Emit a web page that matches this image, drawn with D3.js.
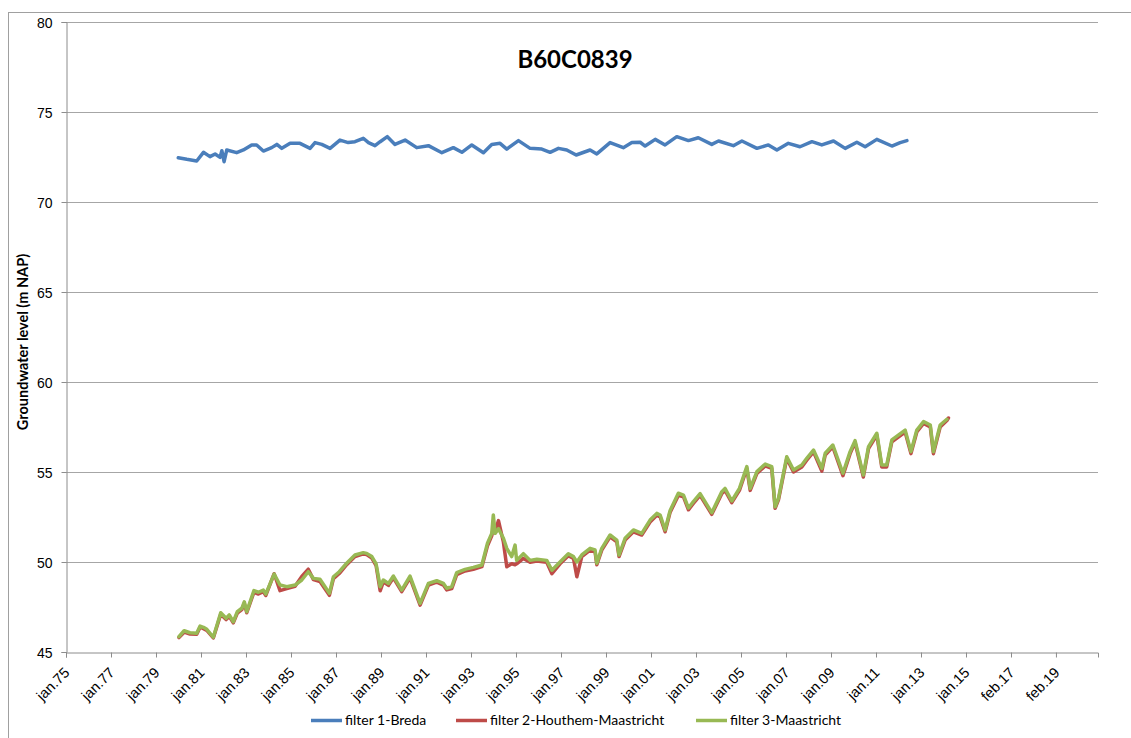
<!DOCTYPE html>
<html>
<head>
<meta charset="utf-8">
<script src="https://cdn.jsdelivr.net/npm/d3@7"></script>
<style>
  body { margin: 0; background: #fff; }
  svg { font-family: Lato, "Open Sans", sans-serif; }
</style>
</head>
<body>
<div class="canvas"></div>
<script>
// series names
const seriesNames = ["filter 1-Breda", "filter 2-Houthem-Maastricht", "filter 3-Maastricht"];

// filter 1 (decimal years / m NAP)
const bredaYears = [1980.00, 1980.38, 1980.82, 1981.12, 1981.41, 1981.64, 1981.86, 1981.94, 1982.04, 1982.16,
  1982.60, 1982.90, 1983.27, 1983.49, 1983.79, 1984.16, 1984.39, 1984.61, 1984.98, 1985.42,
  1985.87, 1986.09, 1986.39, 1986.76, 1987.20, 1987.57, 1987.87, 1988.24, 1988.47, 1988.76,
  1988.99, 1989.31, 1989.65, 1990.10, 1990.62, 1991.14, 1991.74, 1992.25, 1992.63, 1993.07,
  1993.59, 1993.96, 1994.33, 1994.63, 1995.15, 1995.67, 1996.19, 1996.56, 1996.93, 1997.30,
  1997.72, 1998.34, 1998.64, 1999.23, 1999.82, 2000.20, 2000.57, 2000.79, 2001.24, 2001.68,
  2002.20, 2002.72, 2003.16, 2003.76, 2004.06, 2004.72, 2005.10, 2005.77, 2006.28, 2006.66,
  2007.17, 2007.69, 2008.22, 2008.66, 2009.18, 2009.70, 2010.22, 2010.59, 2011.11, 2011.78,
  2012.15, 2012.45];
const bredaLevels = [72.46, 72.37, 72.28, 72.76, 72.52, 72.67, 72.48, 72.85, 72.24, 72.89,
  72.74, 72.89, 73.17, 73.17, 72.83, 73.02, 73.20, 72.98, 73.26, 73.26,
  72.98, 73.30, 73.20, 72.98, 73.44, 73.30, 73.35, 73.54, 73.30, 73.13,
  73.35, 73.63, 73.20, 73.44, 73.02, 73.13, 72.74, 73.02, 72.76, 73.17,
  72.74, 73.20, 73.26, 72.94, 73.41, 72.98, 72.94, 72.76, 72.98, 72.89,
  72.61, 72.89, 72.67, 73.30, 73.02, 73.30, 73.32, 73.11, 73.48, 73.17,
  73.63, 73.41, 73.57, 73.20, 73.39, 73.13, 73.39, 72.98, 73.17, 72.89,
  73.26, 73.07, 73.35, 73.17, 73.39, 72.98, 73.32, 73.07, 73.48, 73.11,
  73.30, 73.41];

// filter 2
const houthemYears = [1980.03, 1980.26, 1980.52, 1980.82, 1980.97, 1981.12, 1981.27, 1981.56, 1981.89, 1982.13,
  1982.27, 1982.45, 1982.63, 1982.83, 1982.94, 1983.05, 1983.37, 1983.57, 1983.79, 1983.90,
  1984.27, 1984.53, 1984.83, 1985.20, 1985.50, 1985.79, 1986.02, 1986.31, 1986.73, 1986.91,
  1987.17, 1987.50, 1987.87, 1988.24, 1988.39, 1988.62, 1988.81, 1988.99, 1989.13, 1989.36,
  1989.58, 1989.95, 1990.32, 1990.77, 1991.14, 1991.51, 1991.81, 1991.96, 1992.18, 1992.40,
  1992.77, 1993.14, 1993.52, 1993.77, 1993.96, 1994.03, 1994.11, 1994.26, 1994.48, 1994.63,
  1994.85, 1995.00, 1995.07, 1995.37, 1995.67, 1995.97, 1996.41, 1996.64, 1997.00, 1997.37,
  1997.60, 1997.75, 1997.97, 1998.34, 1998.56, 1998.64, 1998.86, 1999.23, 1999.53, 1999.63,
  1999.90, 2000.27, 2000.64, 2001.01, 2001.31, 2001.46, 2001.68, 2001.90, 2002.27, 2002.50,
  2002.72, 2002.94, 2003.24, 2003.76, 2004.21, 2004.35, 2004.65, 2004.99, 2005.32, 2005.47,
  2005.77, 2006.14, 2006.43, 2006.58, 2006.73, 2007.10, 2007.40, 2007.77, 2007.99, 2008.29,
  2008.66, 2008.81, 2009.15, 2009.60, 2009.92, 2010.14, 2010.51, 2010.74, 2011.11, 2011.33,
  2011.55, 2011.78, 2012.37, 2012.63, 2012.89, 2013.19, 2013.49, 2013.63, 2013.93, 2014.23,
  2014.30];
const houthemLevels = [45.80, 46.10, 46.00, 45.98, 46.38, 46.30, 46.20, 45.78, 47.10, 46.80,
  46.98, 46.62, 47.16, 47.35, 47.70, 47.18, 48.32, 48.22, 48.35, 48.14,
  49.35, 48.41, 48.52, 48.65, 49.20, 49.60, 49.02, 48.92, 48.15, 49.08,
  49.36, 49.85, 50.30, 50.45, 50.42, 50.22, 49.80, 48.40, 48.90, 48.70,
  49.12, 48.35, 49.12, 47.60, 48.72, 48.88, 48.72, 48.45, 48.52, 49.30,
  49.50, 49.60, 49.74, 50.90, 51.45, 51.90, 51.70, 52.30, 51.10, 49.74,
  49.90, 49.85, 49.90, 50.20, 49.98, 50.05, 49.98, 49.35, 49.90, 50.35,
  50.20, 49.18, 50.30, 50.66, 50.58, 49.85, 50.66, 51.40, 51.12, 50.30,
  51.22, 51.68, 51.50, 52.22, 52.60, 52.50, 51.68, 52.75, 53.70, 53.62,
  52.90, 53.25, 53.70, 52.65, 53.80, 53.98, 53.30, 53.98, 55.20, 53.98,
  54.92, 55.34, 55.20, 52.98, 53.45, 55.75, 55.00, 55.28, 55.66, 56.12,
  55.05, 55.94, 56.40, 54.80, 56.02, 56.64, 54.72, 56.30, 57.05, 55.28,
  55.28, 56.68, 57.22, 56.02, 57.22, 57.70, 57.50, 56.02, 57.50, 57.86,
  58.00];

// filter 3
const maastrichtYears = [1980.03, 1980.26, 1980.52, 1980.82, 1980.97, 1981.12, 1981.27, 1981.56, 1981.89, 1982.13,
  1982.27, 1982.45, 1982.63, 1982.83, 1982.94, 1983.05, 1983.37, 1983.57, 1983.79, 1983.90,
  1984.27, 1984.53, 1984.83, 1985.20, 1985.50, 1985.79, 1986.02, 1986.31, 1986.73, 1986.91,
  1987.17, 1987.50, 1987.87, 1988.24, 1988.39, 1988.62, 1988.81, 1988.99, 1989.13, 1989.36,
  1989.58, 1989.95, 1990.32, 1990.77, 1991.14, 1991.51, 1991.81, 1991.96, 1992.18, 1992.40,
  1992.77, 1993.14, 1993.52, 1993.77, 1993.96, 1994.03, 1994.11, 1994.26, 1994.48, 1994.63,
  1994.85, 1995.00, 1995.07, 1995.37, 1995.67, 1995.97, 1996.41, 1996.64, 1997.00, 1997.37,
  1997.60, 1997.75, 1997.97, 1998.34, 1998.56, 1998.64, 1998.86, 1999.23, 1999.53, 1999.63,
  1999.90, 2000.27, 2000.64, 2001.01, 2001.31, 2001.46, 2001.68, 2001.90, 2002.27, 2002.50,
  2002.72, 2002.94, 2003.24, 2003.76, 2004.21, 2004.35, 2004.65, 2004.99, 2005.32, 2005.47,
  2005.77, 2006.14, 2006.43, 2006.58, 2006.73, 2007.10, 2007.40, 2007.77, 2007.99, 2008.29,
  2008.66, 2008.81, 2009.15, 2009.60, 2009.92, 2010.14, 2010.51, 2010.74, 2011.11, 2011.33,
  2011.55, 2011.78, 2012.37, 2012.63, 2012.89, 2013.19, 2013.49, 2013.63, 2013.93, 2014.23];
const maastrichtLevels = [45.85, 46.18, 46.07, 46.04, 46.44, 46.37, 46.26, 45.82, 47.18, 46.87,
  47.06, 46.68, 47.24, 47.43, 47.79, 47.24, 48.41, 48.32, 48.44, 48.22,
  49.33, 48.72, 48.63, 48.72, 49.00, 49.46, 49.09, 49.04, 48.26, 49.18,
  49.46, 49.93, 50.39, 50.52, 50.48, 50.30, 49.89, 48.63, 49.00, 48.81,
  49.22, 48.44, 49.22, 47.70, 48.81, 48.96, 48.81, 48.54, 48.63, 49.41,
  49.59, 49.70, 49.83, 51.04, 51.59, 52.61, 51.59, 51.85, 51.32, 50.76,
  50.30, 50.94, 50.09, 50.46, 50.09, 50.15, 50.09, 49.54, 50.00, 50.46,
  50.30, 50.00, 50.39, 50.76, 50.67, 49.93, 50.76, 51.50, 51.22, 50.39,
  51.32, 51.78, 51.59, 52.33, 52.70, 52.61, 51.78, 52.85, 53.82, 53.72,
  53.00, 53.35, 53.80, 52.74, 53.91, 54.09, 53.39, 54.09, 55.30, 54.09,
  55.02, 55.44, 55.30, 53.07, 53.54, 55.85, 55.11, 55.39, 55.76, 56.22,
  55.20, 56.04, 56.50, 54.93, 56.13, 56.74, 54.83, 56.41, 57.15, 55.39,
  55.39, 56.78, 57.33, 56.13, 57.33, 57.80, 57.61, 56.13, 57.61, 57.93];

// axis ticks
const yTicks = [45, 50, 55, 60, 65, 70, 75, 80];
const xTickDates = ["1975-01-01", "1977-01-02", "1979-01-04", "1981-01-05", "1983-01-07", "1985-01-08",
  "1987-01-10", "1989-01-11", "1991-01-13", "1993-01-14", "1995-01-16", "1997-01-17",
  "1999-01-19", "2001-01-20", "2003-01-22", "2005-01-23", "2007-01-25", "2009-01-26",
  "2011-01-28", "2013-01-29", "2015-01-31", "2017-02-01", "2019-02-02"];
const xDomain = ["1975-01-01", "2020-12-17"];
const monthsNL = ["jan", "feb", "mrt", "apr", "mei", "jun", "jul", "aug", "sep", "okt", "nov", "dec"];

const colors = ["#4a7ebb", "#be4b48", "#98b954"];

const width = 1131;
const height = 738;
const plot = { left: 66, right: 1098, top: 22, bottom: 652 };

const parse = d3.utcParse("%Y-%m-%d");
const fromYear = (yr) => {
  const y0 = Math.floor(yr);
  const start = Date.UTC(y0, 0, 1);
  const end = Date.UTC(y0 + 1, 0, 1);
  return new Date(start + (yr - y0) * (end - start));
};

const svg = d3
  .select(".canvas")
  .append("svg")
  .attr("width", width)
  .attr("height", height);

// chart border
svg
  .append("rect")
  .attr("x", 8.5)
  .attr("y", 12.5)
  .attr("width", width)
  .attr("height", height)
  .attr("fill", "none")
  .attr("stroke", "#a0a0a0")
  .attr("stroke-width", 1);

//scales
const x = d3.scaleUtc().domain(xDomain.map(parse)).range([plot.left, plot.right]);
const y = d3.scaleLinear().domain([45, 80]).range([plot.bottom, plot.top]);

//gridlines
svg
  .append("g")
  .selectAll("line")
  .data(yTicks.filter((d) => d !== 45))
  .join("line")
  .attr("x1", plot.left)
  .attr("x2", plot.right)
  .attr("y1", (d) => Math.round(y(d)) + 0.5)
  .attr("y2", (d) => Math.round(y(d)) + 0.5)
  .attr("stroke", "#a6a6a6")
  .attr("stroke-width", 1);

//axes
const yAxis = d3.axisLeft(y).tickValues(yTicks).tickSize(5).tickPadding(9).tickFormat(d3.format("d"));
const yAxisGroup = svg
  .append("g")
  .attr("transform", `translate(${plot.left + 0.5},0)`)
  .call(yAxis);

const xAxis = d3
  .axisBottom(x)
  .tickValues(xTickDates.map(parse))
  .tickSize(5)
  .tickFormat((d) => monthsNL[d.getUTCMonth()] + "." + d3.utcFormat("%y")(d));
const xAxisGroup = svg
  .append("g")
  .attr("transform", `translate(0,${plot.bottom + 0.5})`)
  .call(xAxis);

[yAxisGroup, xAxisGroup].forEach((g) => {
  g.select(".domain").attr("stroke", "#8c8c8c");
  g.selectAll(".tick line").attr("stroke", "#8c8c8c");
  g.selectAll("text").attr("fill", "#000").style("font-size", "14px");
});
yAxisGroup.selectAll(".tick text").attr("dy", "0.36em");

//rotate axis text
xAxisGroup
  .selectAll(".tick text")
  .attr("y", 0)
  .attr("dy", 0)
  .style("font-size", "14.5px")
  .attr("transform", "translate(4,21) rotate(-45)")
  .attr("text-anchor", "end");

//lines
const line = d3
  .line()
  .x((d) => x(d.date))
  .y((d) => y(d.value));

const series = [
  [bredaYears, bredaLevels],
  [houthemYears, houthemLevels],
  [maastrichtYears, maastrichtLevels]
].map(([yrs, vals]) => yrs.map((yr, i) => ({ date: fromYear(yr), value: vals[i] })));

svg
  .append("g")
  .selectAll("path")
  .data(series)
  .join("path")
  .attr("fill", "none")
  .attr("stroke", (d, i) => colors[i])
  .attr("stroke-width", 3.5)
  .attr("stroke-linejoin", "round")
  .attr("stroke-linecap", "round")
  .attr("d", line);

//title
svg
  .append("text")
  .attr("x", 575)
  .attr("y", 68)
  .attr("text-anchor", "middle")
  .style("font-size", "24px")
  .style("font-weight", "bold")
  .text("B60C0839");

//y label
svg
  .append("text")
  .attr("transform", "translate(28,342) rotate(-90)")
  .attr("text-anchor", "middle")
  .style("font-size", "14.5px")
  .style("font-weight", "bold")
  .text("Groundwater level (m NAP)");

//legend
const legendX = [311, 456, 696];
const legend = svg
  .append("g")
  .selectAll("g")
  .data(seriesNames)
  .join("g")
  .attr("transform", (d, i) => `translate(${legendX[i]},720.5)`);

legend
  .append("line")
  .attr("x1", 0)
  .attr("x2", 31)
  .attr("stroke", (d, i) => colors[i])
  .attr("stroke-width", 3.5);

legend
  .append("text")
  .attr("x", 34)
  .attr("dy", "0.35em")
  .style("font-size", "14px")
  .text((d) => d);
</script>
</body>
</html>
